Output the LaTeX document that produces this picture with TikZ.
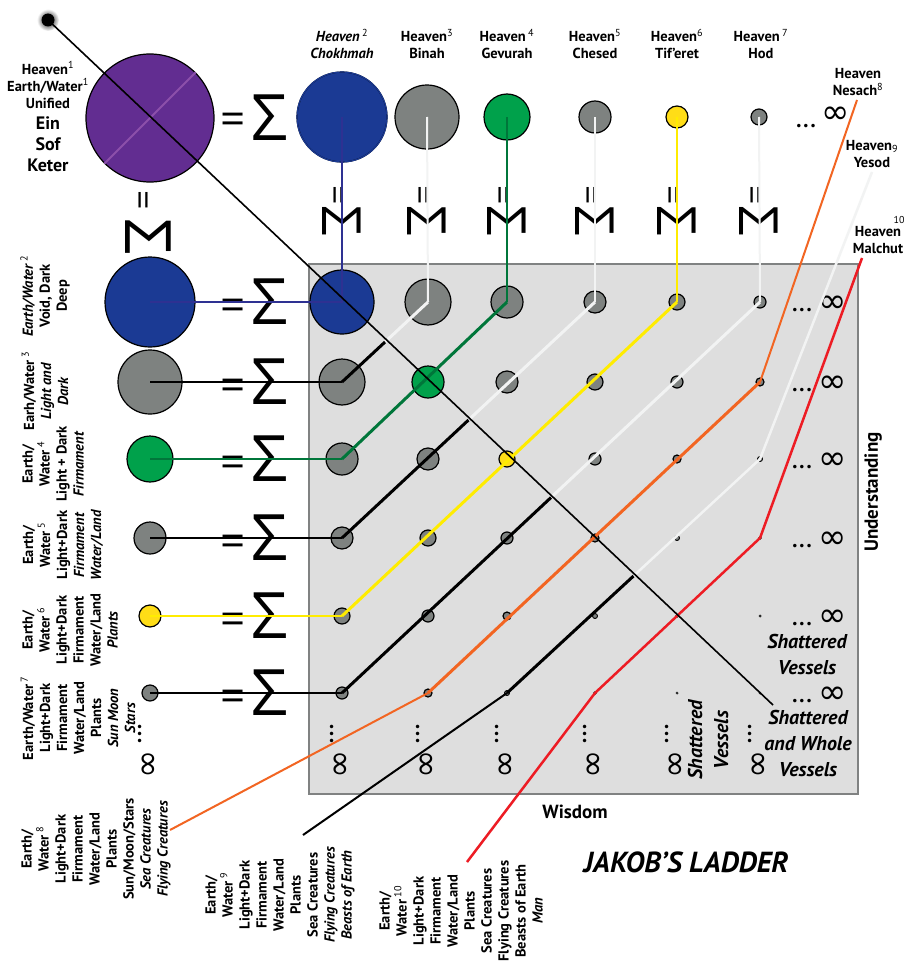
\documentclass[tikz,border=0pt]{standalone}
\usepackage{fontspec}
\setmainfont{PT Sans}
\newfontfamily\sigfont{Open Sans}
\newfontfamily\symfont{DejaVu Sans}
\usetikzlibrary{calc}
\definecolor{ladpurple}{RGB}{98,45,145}
\definecolor{ladpurplelt}{RGB}{140,80,170}
\definecolor{ladblue}{RGB}{27,58,148}
\definecolor{ladnavy}{RGB}{46,49,146}
\definecolor{ladgreen}{RGB}{0,161,75}
\definecolor{ladgreendk}{RGB}{0,118,58}
\definecolor{ladyellow}{RGB}{255,221,23}
\definecolor{ladyellowln}{RGB}{255,236,0}
\definecolor{ladgray}{RGB}{126,130,128}
\definecolor{ladpale}{RGB}{242,243,243}
\definecolor{ladorange}{RGB}{242,101,34}
\definecolor{ladred}{RGB}{237,28,36}
\definecolor{ladbg}{RGB}{222,222,222}
\definecolor{ladframe}{RGB}{128,130,130}
\newcommand\heavno[1]{\textsuperscript{\normalfont #1}}

\tikzset{
  orb/.style={circle, draw=black, line width=1.2pt, inner sep=0pt, fill=ladgray},
  lbl/.style={font=\bfseries\fontsize{14.5}{17}\selectfont, align=center, inner sep=0pt},
  sideways/.style={lbl, rotate=90},
  bigtxt/.style={font=\bfseries\itshape\fontsize{20}{26}\selectfont, align=center, inner sep=0pt},
  sig/.style={font=\sigfont\fontsize{64}{64}\selectfont, inner sep=0pt},
  eqs/.style={font=\sigfont\fontsize{44}{44}\selectfont, inner sep=0pt},
  inf/.style={font=\symfont\fontsize{34}{34}\selectfont, inner sep=0pt},
  dotrow/.style={font=\symfont\fontsize{12}{12}\selectfont, inner sep=0pt},
  stem/.style={line width=2pt},
  diag/.style={line width=3pt},
}

\begin{document}
\begin{tikzpicture}[x=1pt, y=-1pt]
  \fill[white] (0,0) rectangle (905,966);
  \useasboundingbox (0,0) rectangle (905,966);
  % grey field of the vessels
  \filldraw[fill=ladbg, draw=ladframe, line width=1.5pt] (309,264) rectangle (858,794);

  % Keter and the seed point
  \node[orb, fill=ladpurple, minimum size=128pt] (keter) at (150,118) {};
  \draw[ladpurplelt, line width=2pt] (keter.225) -- (keter.45);
  \node[circle, minimum size=22pt, inner sep=0pt, inner color=black, outer color=white] (seed) at (48,20) {};
  \fill[black] (seed.center) circle (6.5pt);

  % top row of spheres
  \foreach \j/\x/\c in {1/342/ladblue, 2/427/ladgray, 3/507/ladgreen,
                        4/595/ladgray, 5/677/ladyellow, 6/759/ladgray}{
    \pgfmathsetmacro\r{{45,32,23,16,11,8}[\j-1]}
    \node[orb, fill=\c, minimum size=2*\r pt] (t-\j) at (\x,117) {};
    \node[eqs, rotate=-90, font=\sigfont\fontsize{34}{34}\selectfont] (teq-\j) at (\x-7,195) {=};
    \node[sig, rotate=-90, font=\sigfont\fontsize{54}{54}\selectfont] (tsig-\j) at (\x,221) {Σ};
  }
  \draw[ladblue, line width=1.2pt] (t-1) circle (45pt);
  \node[eqs] (keq) at (233,124) {=};
  \node[sig] (ksig) at (270,118) {Σ};
  \node[eqs, rotate=-90, font=\sigfont\fontsize{34}{34}\selectfont] (keq-v) at (140,200) {=};
  \node[sig, rotate=-90] (ksig-v) at (148,237) {Σ};

  % left column and the grid of vessels
  \foreach \i/\y/\c in {1/302/ladblue, 2/382/ladgray, 3/459/ladgreen,
                        4/538/ladgray, 5/616/ladyellow, 6/693/ladgray}{
    \pgfmathsetmacro\r{{45,32,23,16,11,8}[\i-1]}
    \node[orb, fill=\c, minimum size=2*\r pt] (l-\i) at (150,\y) {};
    \node[eqs] (leq-\i) at (233,\y+8) {=};
    \node[sig] (lsig-\i) at (270,\y) {Σ};
    \foreach \j/\x in {1/342, 2/428, 3/507, 4/595, 5/677, 6/760}{
      \pgfmathsetmacro\r{{45,32,23,16,11,8,6,4,2.5,1.5,1.2,1.2}[\i+\j-1]}
      \pgfmathsetmacro\lw{min(1.2,0.35*\r)}
      \def\cfill{ladgray}
      \ifnum\i=\j \ifcase\i\or\def\cfill{ladblue}\or\def\cfill{ladgreen}\or\def\cfill{ladyellow}\fi\fi
      \node[orb, fill=\cfill, line width=\lw pt, minimum size=2*\r pt] (g-\i-\j) at (\x,\y) {};
    }
    \node[dotrow] (rdots-\i) at (802,\y+9) {•••};
    \node[inf] (rinf-\i) at (833,\y+2) {∞};
  }
  \node[dotrow] (tdots) at (806,127) {•••};
  \node[inf] (tinf) at (836,115) {∞};
  \foreach \x/\n in {150/0, 342/1, 428/2, 507/3, 595/4, 677/5, 760/6}{
    \node[dotrow, rotate=90] (cdots-\n) at (\x-9,734) {•••};
    \node[inf, rotate=90] (cinf-\n) at (\x,764) {∞};
  }

  % paths of the ladder
  \draw[ladnavy, line width=1.3pt] (t-1.center) -- (g-1-1.center) -- (l-1.center);
  \foreach \j/\ca/\cb in {2/ladpale/black, 3/ladgreendk/ladgreendk, 4/ladpale/black,
                          5/ladyellowln/ladyellowln, 6/ladpale/black}{
    \coordinate (mid-\j) at ($(g-1-\j.center)!0.5!(g-\j-1.center)$);
    \draw[stem, \ca] (t-\j.center) -- (g-1-\j.center);
    \draw[diag, \ca] (g-1-\j.center) -- (mid-\j);
    \draw[diag, \cb] (mid-\j) -- (g-\j-1.center);
    \draw[stem, \cb] (g-\j-1.center) -- (l-\j.center);
  }

  % labels of the heavens
  \node[lbl] (unified) at (48,85) {Heaven\heavno{1}\\Earth/Water\heavno{1}\\Unified};
  \node[lbl, font=\bfseries\fontsize{18}{21}\selectfont] (einsof) at (48,144) {Ein\\Sof\\Keter};
  \node[lbl] (chokhmah) at (342,44) {\textit{Heaven}\,\heavno{2}\\\textit{Chokhmah}};
  \node[lbl] (binah) at (427,44) {Heaven\heavno{3}\\Binah};
  \node[lbl] (gevurah) at (507,44) {Heaven\,\heavno{4}\\Gevurah};
  \node[lbl] (chesed) at (595,44) {Heaven\heavno{5}\\Chesed};
  \node[lbl] (tiferet) at (677,44) {Heaven\heavno{6}\\Tif’eret};
  \node[lbl] (hod) at (761,44) {Heaven\,\heavno{7}\\Hod};
  \node[lbl] (nesach) at (858,82) {Heaven\\Nesach\heavno{8}};
  \node[lbl] (yesod) at (872,154) {Heaven\textsubscript{\normalfont 9}\\Yesod};
  \node[lbl] (malchut) at (878,240) {Heaven\\Malchut};
  \node[font=\fontsize{10}{10}\selectfont, inner sep=0pt] (malchut-no) at (899,220) {10};

  % labels of the earths
  \node[sideways] (earth2) at (45,296) {\textit{Earth/Water}\,\heavno{2}\\Void, Dark\\Deep};
  \node[sideways] (earth3) at (45,391) {Earh/Water\,\heavno{3}\\\textit{Light and}\\\textit{Dark}};
  \node[sideways] (earth4) at (53,464) {Earth/\\Water\,\heavno{4}\\Light + Dark\\\textit{Firmament}};
  \node[sideways] (earth5) at (63,545) {Earth/\\Water\,\heavno{5}\\Light+Dark\\\textit{Firmament}\\\textit{Water/Land}};
  \node[sideways] (earth6) at (70,630) {Earth/\\Water\,\heavno{6}\\Light+Dark\\Firmament\\Water/Land\\\textit{Plants}};
  \node[sideways] (earth7) at (78,718) {Earth/Water\,\heavno{7}\\Light+Dark\\Firmament\\Water/Land\\Plants\\\textit{Sun Moon}\\\textit{Stars}};
  \node[sideways] (earth8) at (96,849) {Earth/\\Water\,\heavno{8}\\Light+Dark\\Firmament\\Water/Land\\Plants\\Sun/Moon/Stars\\\textit{Sea Creatures}\\\textit{Flying Creatures}};
  \node[sideways] (earth9) at (280,895) {Earth/\\Water\,\heavno{9}\\Light+Dark\\Firmament\\Water/Land\\Plants\\Sea Creatures\\\textit{Flying Creatures}\\\textit{Beasts of Earth}};
  \node[sideways] (earth10) at (461,911) {Earth/\\Water\,\heavno{10}\\Light+Dark\\Firmament\\Water/Land\\Plants\\Sea Creatures\\Flying Creatures\\Beasts of Earth\\\textit{Man}};

  % the three lower heavens
  \coordinate (nesach-foot) at (857,100);
  \coordinate (nesach-end) at (170,830);
  \draw[ladorange, line width=2pt] (nesach-foot) -- (g-2-6.center);
  \draw[ladorange, diag] (g-2-6.center) -- (g-6-2.center);
  \draw[ladorange, line width=2pt] (g-6-2.center) -- (nesach-end);
  \coordinate (yesod-foot) at (872,172);
  \coordinate (yesod-end) at (303,835);
  \coordinate (mid-y) at ($(g-3-6.center)!0.5!(g-6-3.center)$);
  \draw[ladpale, line width=2.5pt] (yesod-foot) -- (g-3-6.center) -- (mid-y);
  \draw[black, diag] (mid-y) -- (g-6-3.center);
  \draw[black, line width=2pt] (g-6-3.center) -- (yesod-end);
  \coordinate (malchut-foot) at (862,258);
  \coordinate (malchut-end) at (467,862);
  \draw[ladred, line width=2.5pt] (malchut-foot) -- (g-4-6.center) -- (g-6-4.center) -- (malchut-end);

  % the line of the seed
  \coordinate (seed-end) at (773,705);
  \draw[black, line width=1.6pt] (seed.center) -- (seed-end);

  % remaining texts
  \node[bigtxt] (shatter-a) at (807,654) {Shattered\\Vessels};
  \node[bigtxt] (shatter-b) at (808,743) {Shattered\\and Whole\\Vessels};
  \node[bigtxt, rotate=90] (shatter-c) at (708,740) {Shattered\\Vessels};
  \node[font=\bfseries\fontsize{19}{19}\selectfont, inner sep=0pt] (wisdom) at (575,812) {Wisdom};
  \node[font=\bfseries\fontsize{19}{19}\selectfont, inner sep=0pt, rotate=90] (understanding) at (873,492) {Understanding};
  \node[font=\bfseries\itshape\fontsize{29}{29}\selectfont, inner sep=0pt] (title) at (686,862) {JAKOB’S LADDER};
\end{tikzpicture}
\end{document}
